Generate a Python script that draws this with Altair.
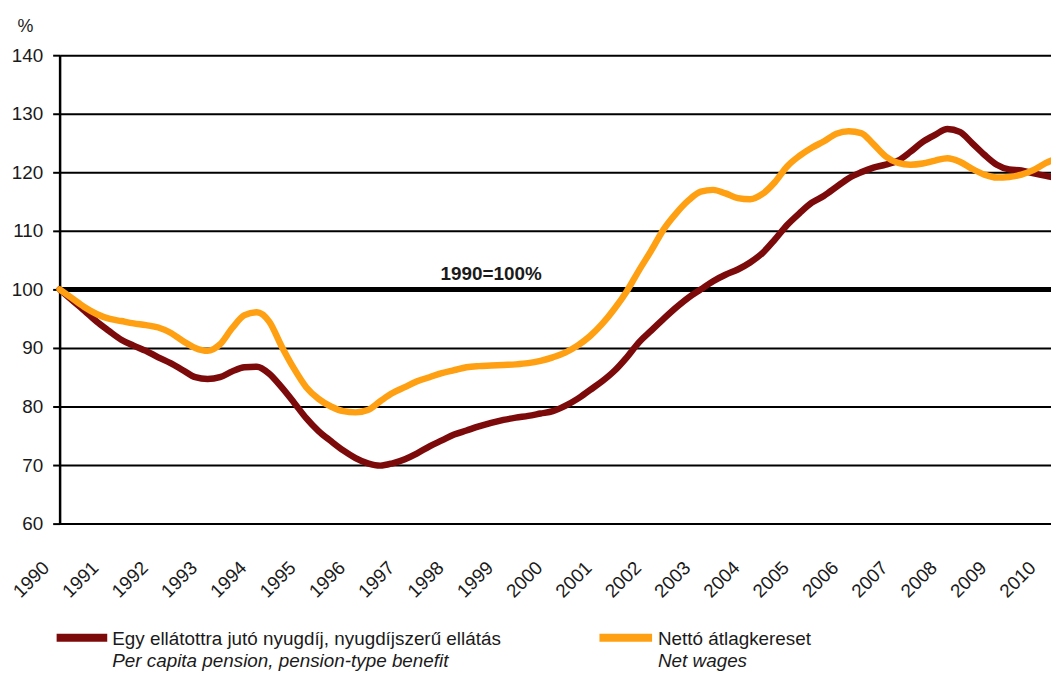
import altair as alt
import pandas as pd

YEARS_TICKS = list(range(1990, 2011))

T = [1990 + 0.25 * i for i in range(81)] + [2010.1]

PENSION = [
    100.0, 98.2, 96.4, 94.5, 92.9, 91.4, 90.4, 89.5, 88.4, 87.4, 86.2, 85.0,
    84.7, 85.0, 86.0, 86.7, 86.8, 85.6, 83.3, 80.7, 78.0, 75.8, 74.1, 72.5,
    71.2, 70.3, 69.9, 70.3, 71.0, 72.0, 73.2, 74.2, 75.2, 75.9, 76.6, 77.2,
    77.7, 78.1, 78.4, 78.8, 79.2, 80.1, 81.3, 82.8, 84.3, 86.1, 88.4, 91.0,
    93.0, 95.0, 96.9, 98.6, 100.0, 101.4, 102.5, 103.4, 104.6, 106.2, 108.5, 111.0,
    113.0, 114.8, 116.0, 117.5, 119.0, 120.0, 120.8, 121.3, 122.0, 123.5, 125.2, 126.4,
    127.4, 126.9, 125.0, 123.0, 121.3, 120.5, 120.3, 119.8, 119.4, 119.2,
]

WAGES = [
    100.0, 98.5, 97.0, 95.8, 95.0, 94.6, 94.2, 93.9, 93.5, 92.6, 91.2, 90.0,
    89.5, 90.6, 93.4, 95.6, 96.1, 94.5, 90.3, 86.5, 83.3, 81.3, 80.0, 79.2,
    79.0, 79.4, 80.9, 82.3, 83.3, 84.3, 85.0, 85.7, 86.2, 86.7, 86.9, 87.0,
    87.1, 87.2, 87.4, 87.8, 88.4, 89.2, 90.4, 92.0, 94.1, 96.7, 99.7, 103.3,
    106.7, 110.3, 113.0, 115.2, 116.7, 117.0, 116.4, 115.6, 115.4, 116.3, 118.3, 121.0,
    122.8, 124.2, 125.3, 126.6, 127.0, 126.7, 124.8, 122.7, 121.6, 121.3, 121.5, 122.0,
    122.4, 121.8, 120.6, 119.6, 119.1, 119.2, 119.6, 120.4, 121.6, 122.0,
]

SERIES = ["Egy ellátottra jutó nyugdíj, nyugdíjszerű ellátás", "Nettó átlagkereset"]
SERIES_EN = ["Per capita pension, pension-type benefit", "Net wages"]
COLORS = ["#7d0a0a", "#ffa012"]
Y_TICKS = [60, 70, 80, 90, 100, 110, 120, 130, 140]
BASE_LABEL = "1990=100%"
BASE_VALUE = 100
BASE_LABEL_X = 1998.75

FONT = "Liberation Sans"
TXT = "#1a1a1a"

df = pd.DataFrame(
    {
        "year": T + T,
        "value": PENSION + WAGES,
        "series": [SERIES[0]] * len(T) + [SERIES[1]] * len(T),
    }
)

x_enc = alt.X(
    "year:Q",
    scale=alt.Scale(domain=[1990, 2010.1], nice=False, zero=False),
    axis=alt.Axis(
        values=YEARS_TICKS,
        format="d",
        labelAngle=-45,
        labelAlign="right",
        labelBaseline="middle",
        ticks=False,
        labelPadding=41,
        labelOffset=-14,
        grid=False,
        domainColor="black",
        domainWidth=2,
        labelFont=FONT,
        labelFontSize=19,
        labelColor=TXT,
        labelFlush=False,
        labelOverlap=False,
        labelBound=False,
        title=None,
    ),
)
y_enc = alt.Y(
    "value:Q",
    scale=alt.Scale(domain=[60, 140], nice=False, zero=False),
    axis=alt.Axis(
        values=Y_TICKS,
        grid=True,
        gridColor="black",
        gridWidth=2,
        tickColor="black",
        tickWidth=2,
        tickSize=7,
        domainColor="black",
        domainWidth=2.5,
        labelPadding=10,
        labelFont=FONT,
        labelFontSize=19,
        labelColor=TXT,
        title="%",
        titleAngle=0,
        titleX=-35,
        titleY=-29,
        titleAlign="center",
        titleBaseline="middle",
        titleFont=FONT,
        titleFontSize=18,
        titleFontWeight="normal",
        titleColor=TXT,
    ),
)

color_scale = alt.Scale(domain=SERIES, range=COLORS)

base = alt.Chart(df)

grid_layer = base.mark_point(opacity=0).encode(x=x_enc, y=y_enc)

ref = (
    alt.Chart(pd.DataFrame({"v": [BASE_VALUE]}))
    .mark_rule(color="black", strokeWidth=5)
    .encode(y=alt.Y("v:Q"))
)

lbl = (
    alt.Chart(pd.DataFrame({"x": [BASE_LABEL_X], "v": [BASE_VALUE], "t": [BASE_LABEL]}))
    .mark_text(font=FONT, fontSize=19, fontWeight="bold", color=TXT, baseline="alphabetic", dy=-9)
    .encode(x="x:Q", y="v:Q", text="t:N")
)

line_p = (
    base.transform_filter(alt.datum.series == SERIES[0])
    .mark_line(strokeWidth=6.5, interpolate="monotone", strokeCap="round")
    .encode(x="year:Q", y="value:Q", color=alt.Color("series:N", scale=color_scale, legend=None))
)
line_w = (
    base.transform_filter(alt.datum.series == SERIES[1])
    .mark_line(strokeWidth=6.5, interpolate="monotone", strokeCap="round")
    .encode(x="year:Q", y="value:Q", color=alt.Color("series:N", scale=color_scale, legend=None))
)

# manual legend
LEG_Y = 587
LEG_Y2 = 609
leg_layers = []
for i, (sx0, sx1, tx) in enumerate([(-3, 48, 53), (544, 597, 603)]):
    leg_layers.append(
        alt.Chart(pd.DataFrame({"s": [SERIES[i]]}))
        .mark_rule(strokeWidth=8, color=COLORS[i])
        .encode(x=alt.value(sx0), x2=alt.value(sx1), y=alt.value(LEG_Y))
    )
    leg_layers.append(
        alt.Chart(pd.DataFrame({"t": [SERIES[i]]}))
        .mark_text(font=FONT, fontSize=19, color=TXT, align="left", baseline="middle")
        .encode(text="t:N", x=alt.value(tx), y=alt.value(LEG_Y + 1))
    )
    leg_layers.append(
        alt.Chart(pd.DataFrame({"t": [SERIES_EN[i]]}))
        .mark_text(font=FONT, fontSize=19, fontStyle="italic", color=TXT, align="left", baseline="middle")
        .encode(text="t:N", x=alt.value(tx), y=alt.value(LEG_Y2 + 1))
    )

chart = (
    alt.layer(grid_layer, ref, lbl, line_p, line_w, *leg_layers)
    .properties(
        width=999,
        height=472,
        autosize=alt.AutoSizeParams(type="none"),
        padding={"left": 52, "top": 45, "right": 0, "bottom": 150},
        background="white",
    )
    .configure_view(stroke=None)
)

chart.save("out.html", embed_options={"renderer": "svg", "actions": False})
